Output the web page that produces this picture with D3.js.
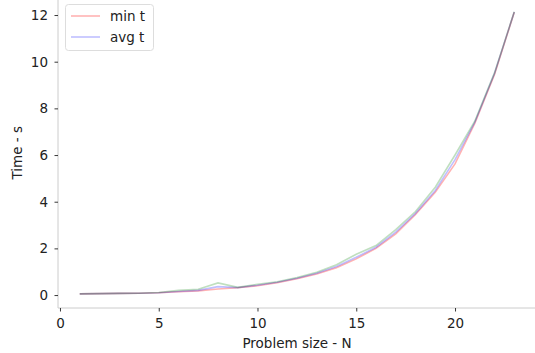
<!DOCTYPE html>
<html>
<head>
<meta charset="utf-8">
<script src="https://cdn.jsdelivr.net/npm/d3@7"></script>
<style>
  body { margin: 0; background: #fff; }
  text { font-family: "DejaVu Sans", sans-serif; }
</style>
</head>
<body>
<div id="chart"></div>
<script>
// Set dimensions for the plot
const width = 535;
const height = 353;

// Data
const sizes = [1, 2, 3, 4, 5, 6, 7, 8, 9, 10, 11, 12, 13, 14, 15, 16, 17, 18, 19, 20, 21, 22, 23];
const minT = [0.05, 0.06, 0.07, 0.08, 0.1, 0.14, 0.18, 0.26, 0.31, 0.4, 0.53, 0.7, 0.9, 1.17, 1.55, 2.0, 2.62, 3.45, 4.4, 5.62, 7.35, 9.45, 12.12];
const avgT = [0.05, 0.06, 0.07, 0.08, 0.1, 0.15, 0.2, 0.36, 0.32, 0.42, 0.55, 0.72, 0.93, 1.22, 1.62, 2.05, 2.7, 3.5, 4.48, 5.8, 7.4, 9.5, 12.13];
const maxT = [0.05, 0.06, 0.07, 0.08, 0.11, 0.2, 0.25, 0.52, 0.33, 0.46, 0.57, 0.75, 0.98, 1.3, 1.75, 2.12, 2.8, 3.58, 4.62, 6.0, 7.45, 9.52, 12.14];
const yTicks = [0, 2, 4, 6, 8, 10, 12];
const xTicks = [0, 5, 10, 15, 20];

const svg = d3.select("#chart")
  .append("svg")
  .attr("width", width)
  .attr("height", height);

// scales (matplotlib style 5% margins)
const xScale = d3.scaleLinear()
  .domain([-0.1, 24.1])
  .range([58, 536]);

const yScale = d3.scaleLinear()
  .domain([-0.555, 12.755])
  .range([308, -2.6]);

// spines, only left and bottom
svg.append("line")
  .attr("x1", 58).attr("x2", 58)
  .attr("y1", yScale(12.755)).attr("y2", 308)
  .attr("stroke", "#cccccc").attr("stroke-width", 1);
svg.append("line")
  .attr("x1", 58).attr("x2", 536)
  .attr("y1", 308).attr("y2", 308)
  .attr("stroke", "#cccccc").attr("stroke-width", 1);

// y axis
const yAxis = svg.append("g")
  .attr("transform", "translate(58,0)")
  .call(d3.axisLeft(yScale).tickValues(yTicks).tickSize(3.5).tickPadding(6.5));
yAxis.select(".domain").remove();

// x axis
const xAxis = svg.append("g")
  .attr("transform", "translate(0,308)")
  .call(d3.axisBottom(xScale).tickValues(xTicks).tickSize(3.5).tickPadding(6.5));
xAxis.select(".domain").remove();

svg.selectAll(".tick line").attr("stroke", "#222").attr("stroke-width", 0.9);
svg.selectAll(".tick text")
  .attr("font-family", "DejaVu Sans")
  .attr("font-size", "13.5px")
  .attr("fill", "#222");

// axis titles
svg.append("text")
  .attr("x", xScale(12))
  .attr("y", 348)
  .attr("text-anchor", "middle")
  .attr("font-size", "13.5px")
  .attr("fill", "#222")
  .text("Problem size - N");

svg.append("text")
  .attr("transform", `translate(22,${(yScale(12.755) + 308) / 2}) rotate(-90)`)
  .attr("text-anchor", "middle")
  .attr("font-size", "13.5px")
  .attr("fill", "#222")
  .text("Time - s");

// lines
const series = [
  {name: "min t", values: minT, color: "rgba(255,0,0,0.3)"},
  {name: "avg t", values: avgT, color: "rgba(0,0,255,0.25)"},
  {name: "max t", values: maxT, color: "rgba(0,128,0,0.25)"}
];

const line = d3.line()
  .x((d, i) => xScale(sizes[i]))
  .y(d => yScale(d));

svg.selectAll(".series")
  .data(series)
  .enter()
  .append("path")
    .attr("class", "series")
    .attr("d", d => line(d.values))
    .attr("fill", "none")
    .attr("stroke", d => d.color)
    .attr("stroke-width", 1.6);

// legend (only min and avg are labelled)
const legend = svg.append("g");
legend.append("rect")
  .attr("x", 65.5).attr("y", 4.5)
  .attr("width", 88).attr("height", 46)
  .attr("rx", 3)
  .attr("fill", "rgba(255,255,255,0.8)")
  .attr("stroke", "#dddddd");

const legendItems = legend.selectAll(".item")
  .data(series.slice(0, 2))
  .enter()
  .append("g")
    .attr("class", "item")
    .attr("transform", (d, i) => `translate(0,${16 + i * 21})`);

legendItems.append("line")
  .attr("x1", 71).attr("x2", 100)
  .attr("stroke", d => d.color)
  .attr("stroke-width", 1.6);

legendItems.append("text")
  .attr("x", 110)
  .attr("y", 5)
  .attr("font-size", "13.5px")
  .attr("fill", "#222")
  .text(d => d.name);
</script>
</body>
</html>
